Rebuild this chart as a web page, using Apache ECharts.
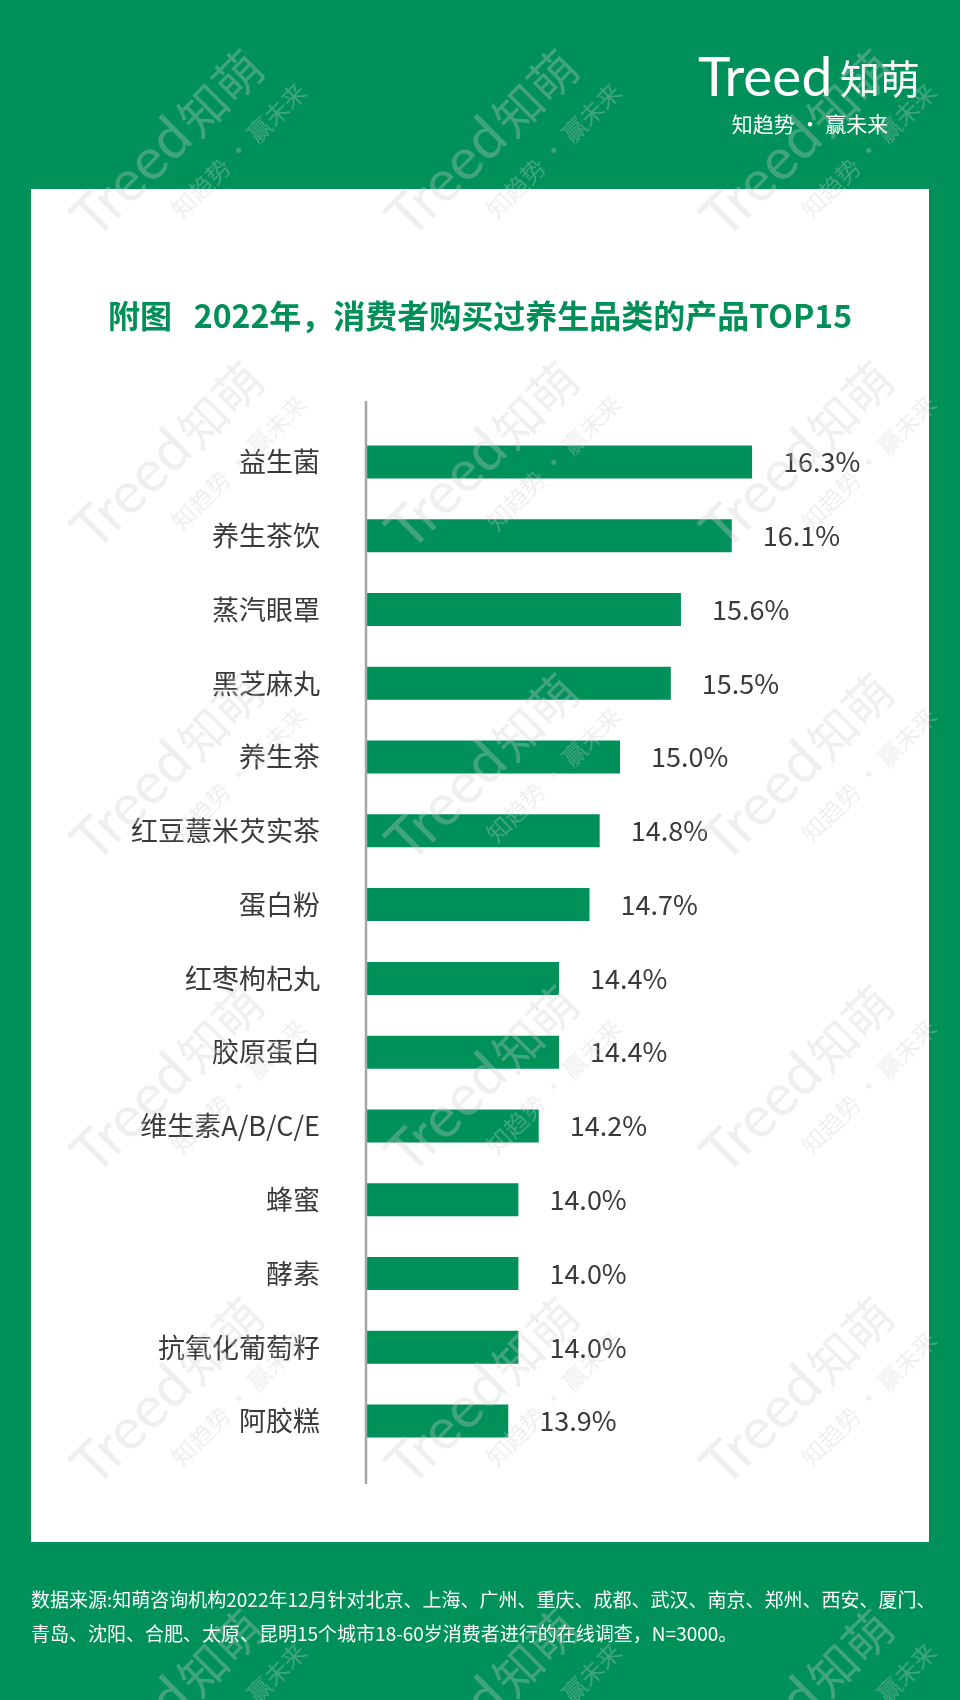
<!DOCTYPE html>
<html>
<head>
<meta charset="utf-8">
<script src="https://cdn.jsdelivr.net/npm/echarts@6/dist/echarts.min.js"></script>
<style>
html,body{margin:0;padding:0;background:#00915A;}
#chart{width:960px;height:1700px;}
</style>
</head>
<body>
<div id="chart"></div>
<script>
const categories = ['益生菌','养生茶饮','蒸汽眼罩','黑芝麻丸','养生茶','红豆薏米芡实茶','蛋白粉','红枣枸杞丸','胶原蛋白','维生素A/B/C/E','蜂蜜','酵素','抗氧化葡萄籽','阿胶糕'];
const values = [16.3,16.1,15.6,15.5,15.0,14.8,14.7,14.4,14.4,14.2,14.0,14.0,14.0,13.9];
const titleText = '附图   2022年，消费者购买过养生品类的产品TOP15';
const footerLines = [
  '数据来源:知萌咨询机构2022年12月针对北京、上海、广州、重庆、成都、武汉、南京、郑州、西安、厦门、',
  '青岛、沈阳、合肥、太原、昆明15个城市18-60岁消费者进行的在线调查，N=3000。'
];
const logoMain = 'Treed';
const logoCn = '知萌';
const logoSub = '知趋势 · 赢未来';

const GREEN = '#00915A';
const CJK = '"Noto Sans CJK SC", "Noto Sans", sans-serif';

const chart = echarts.init(document.getElementById('chart'), null, {renderer: 'canvas'});

function txt(opt) {
  return Object.assign({type: 'text'}, opt);
}

const graphics = [];
// white panel
graphics.push({type: 'rect', shape: {x: 31, y: 189, width: 898, height: 1353}, style: {fill: '#ffffff'}, z: -10, silent: true});
// axis line
graphics.push({type: 'line', shape: {x1: 366, y1: 401, x2: 366, y2: 1484}, style: {stroke: '#a6a6a6', lineWidth: 2.5}, z: 5, silent: true});
// title
graphics.push(txt({x: 480, y: 316, style: {text: titleText, fill: '#008f56', font: 'bold 32px ' + CJK, textAlign: 'center', textVerticalAlign: 'middle', align: 'center', verticalAlign: 'middle'}, z: 5}));
// header logo
graphics.push(txt({x: 698, y: 78, style: {text: logoMain, fill: '#ffffff', font: '55px Lato, "Open Sans", sans-serif', textAlign: 'left', textVerticalAlign: 'middle', align: 'left', verticalAlign: 'middle'}, z: 5}));
graphics.push(txt({x: 920, y: 79, style: {text: logoCn, fill: '#ffffff', font: '40px ' + CJK, textAlign: 'right', textVerticalAlign: 'middle', align: 'right', verticalAlign: 'middle'}, z: 5}));
graphics.push(txt({x: 810, y: 124, style: {text: logoSub, fill: '#ffffff', font: '21px ' + CJK, textAlign: 'center', textVerticalAlign: 'middle', align: 'center', verticalAlign: 'middle'}, z: 5}));
// footer
footerLines.forEach((line, i) => {
  graphics.push(txt({x: 31, y: 1600 + i * 34, style: {text: line, fill: '#ffffff', font: '19px ' + CJK, textAlign: 'left', textVerticalAlign: 'middle', align: 'left', verticalAlign: 'middle'}, z: 5}));
});
// watermarks
const wmColor = 'rgba(205,205,205,0.32)';
for (let r = 0; r < 6; r++) {
  for (let c = 0; c < 3; c++) {
    graphics.push({
      type: 'group',
      x: 192 + c * 315,
      y: 118 + r * 312,
      rotation: Math.PI / 4,
      silent: true,
      z: 100,
      children: [
        txt({x: -14, y: 0, style: {text: logoMain, fill: wmColor, font: '58px Lato, "Open Sans", sans-serif', textAlign: 'right', textVerticalAlign: 'middle', align: 'right', verticalAlign: 'middle'}, z: 100}),
        txt({x: -10, y: 2, style: {text: logoCn, fill: wmColor, font: '48px ' + CJK, textAlign: 'left', textVerticalAlign: 'middle', align: 'left', verticalAlign: 'middle'}, z: 100}),
        txt({x: 10, y: 56, style: {text: logoSub, fill: wmColor, font: '24px ' + CJK, textAlign: 'center', textVerticalAlign: 'middle', align: 'center', verticalAlign: 'middle'}, z: 100})
      ]
    });
  }
}

chart.setOption({
  backgroundColor: GREEN,
  animation: false,
  textStyle: {fontFamily: CJK},
  grid: {left: 366, right: 86, top: 425, height: 1033, containLabel: false},
  xAxis: {type: 'value', min: 12.5, max: 17.5, show: false},
  yAxis: {
    type: 'category',
    data: categories,
    inverse: true,
    axisLine: {show: false},
    axisTick: {show: false},
    splitLine: {show: false},
    axisLabel: {fontSize: 27, color: '#3a3a3a', margin: 46, fontFamily: CJK}
  },
  series: [{
    type: 'bar',
    data: values,
    barWidth: 33,
    itemStyle: {color: '#00905A'},
    label: {
      show: true,
      position: 'right',
      distance: 31,
      fontSize: 27,
      color: '#3a3a3a',
      fontFamily: CJK,
      formatter: p => p.value.toFixed(1) + '%'
    },
    z: 3
  }],
  graphic: {elements: graphics}
});
</script>
</body>
</html>
